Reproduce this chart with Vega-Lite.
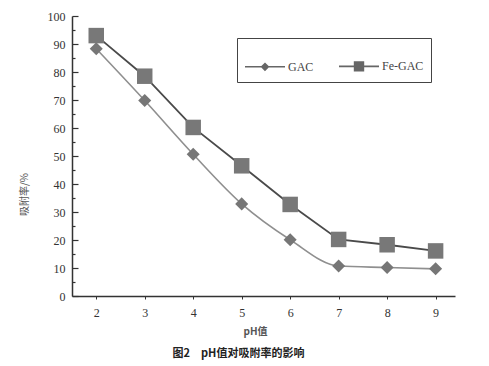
{
  "$schema": "https://vega.github.io/schema/vega-lite/v6.json",
  "width": 383,
  "height": 280,
  "autosize": {"type": "none"},
  "padding": {"left": 72, "top": 16, "right": 34, "bottom": 70},
  "background": "white",
  "config": {"view": {"stroke": null}},
  "title": {
    "text": "图2\u2003pH值对吸附率的影响",
    "orient": "bottom",
    "anchor": "middle",
    "font": "Noto Sans CJK SC",
    "fontSize": 11,
    "fontWeight": "bold",
    "color": "#222",
    "offset": 12,
    "dx": -25
  },
  "data": {
    "values": [
      {"pH": 2, "rate": 88.3, "series": "GAC"},
      {"pH": 3, "rate": 69.8, "series": "GAC"},
      {"pH": 4, "rate": 50.6, "series": "GAC"},
      {"pH": 5, "rate": 32.9, "series": "GAC"},
      {"pH": 6, "rate": 20.1, "series": "GAC"},
      {"pH": 7, "rate": 10.7, "series": "GAC"},
      {"pH": 8, "rate": 10.2, "series": "GAC"},
      {"pH": 9, "rate": 9.7, "series": "GAC"},
      {"pH": 2, "rate": 93.0, "series": "Fe-GAC"},
      {"pH": 3, "rate": 78.5, "series": "Fe-GAC"},
      {"pH": 4, "rate": 60.2, "series": "Fe-GAC"},
      {"pH": 5, "rate": 46.5, "series": "Fe-GAC"},
      {"pH": 6, "rate": 32.7, "series": "Fe-GAC"},
      {"pH": 7, "rate": 20.2, "series": "Fe-GAC"},
      {"pH": 8, "rate": 18.3, "series": "Fe-GAC"},
      {"pH": 9, "rate": 16.1, "series": "Fe-GAC"}
    ]
  },
  "encoding": {
    "x": {
      "field": "pH",
      "type": "quantitative",
      "scale": {"domain": [1.5, 9.4], "nice": false, "zero": false},
      "axis": {
        "title": "pH值",
        "values": [2, 3, 4, 5, 6, 7, 8, 9],
        "grid": false,
        "domainColor": "#333",
        "domainWidth": 1.5,
        "tickColor": "#333",
        "tickSize": 3,
        "labelFont": "Liberation Serif",
        "labelFontSize": 12,
        "labelColor": "#333",
        "labelPadding": 8,
        "titleFont": "Noto Sans CJK SC",
        "titleFontSize": 10,
        "titleFontWeight": "bold",
        "titleColor": "#555",
        "titlePadding": 8,
        "titleX": 183
      }
    },
    "y": {
      "field": "rate",
      "type": "quantitative",
      "scale": {"domain": [0, 100], "nice": false},
      "axis": {
        "title": "吸附率/%",
        "values": [0, 5, 10, 15, 20, 25, 30, 35, 40, 45, 50, 55, 60, 65, 70, 75, 80, 85, 90, 95, 100],
        "labelExpr": "datum.value % 10 === 0 ? datum.label : ''",
        "grid": false,
        "domainColor": "#333",
        "domainWidth": 1.5,
        "tickColor": "#333",
        "tickWidth": 1.2,
        "tickSize": {"condition": {"test": "datum.value % 10 === 0", "value": -6}, "value": -3},
        "labelFont": "Liberation Serif",
        "labelFontSize": 12,
        "labelColor": "#333",
        "labelPadding": 13,
        "titleFont": "Noto Sans CJK SC",
        "titleFontSize": 10,
        "titleFontWeight": "normal",
        "titleColor": "#555",
        "titlePadding": 18,
        "titleY": 178
      }
    }
  },
  "layer": [
    {
      "transform": [{"filter": "datum.series === 'GAC'"}],
      "mark": {"type": "line", "interpolate": "monotone", "strokeWidth": 1.6, "color": "#8f8f8f"},
      "encoding": {}
    },
    {
      "transform": [{"filter": "datum.series === 'Fe-GAC'"}],
      "mark": {"type": "line", "strokeWidth": 1.8, "color": "#4a4a4a"},
      "encoding": {}
    },
    {
      "transform": [{"filter": "datum.series === 'GAC'"}],
      "mark": {"type": "point", "shape": "diamond", "size": 170, "filled": true, "opacity": 1, "color": "#767676"}
    },
    {
      "transform": [{"filter": "datum.series === 'Fe-GAC'"}],
      "mark": {"type": "point", "shape": "square", "size": 240, "filled": true, "opacity": 1, "color": "#787878"}
    },
    {
      "mark": {"type": "point", "filled": true, "opacity": 0, "color": "#666666"},
      "encoding": {
        "shape": {"field": "series", "type": "nominal",
          "scale": {"domain": ["GAC", "Fe-GAC"], "range": [
            "M-1,-0.04H1V0.04H-1ZM-0.22,0L0,-0.22L0.22,0L0,0.22Z",
            "M-1,-0.04H1V0.04H-1ZM-0.26,-0.26H0.26V0.26H-0.26Z"
          ]},
          "legend": {
            "title": null,
            "orient": "none",
            "legendX": 165,
            "legendY": 22,
            "direction": "horizontal",
            "strokeColor": "#444",
            "padding": 7,
            "symbolSize": 1600,
            "labelFont": "Liberation Serif",
            "labelFontSize": 12,
            "labelColor": "#444",
            "labelOffset": 2,
            "columnPadding": 22,
            "encode": {
              "symbols": {
                "update": {
                  "opacity": {"value": 1}
                }
              }
            }
          }
        }
      }
    }
  ]
}
